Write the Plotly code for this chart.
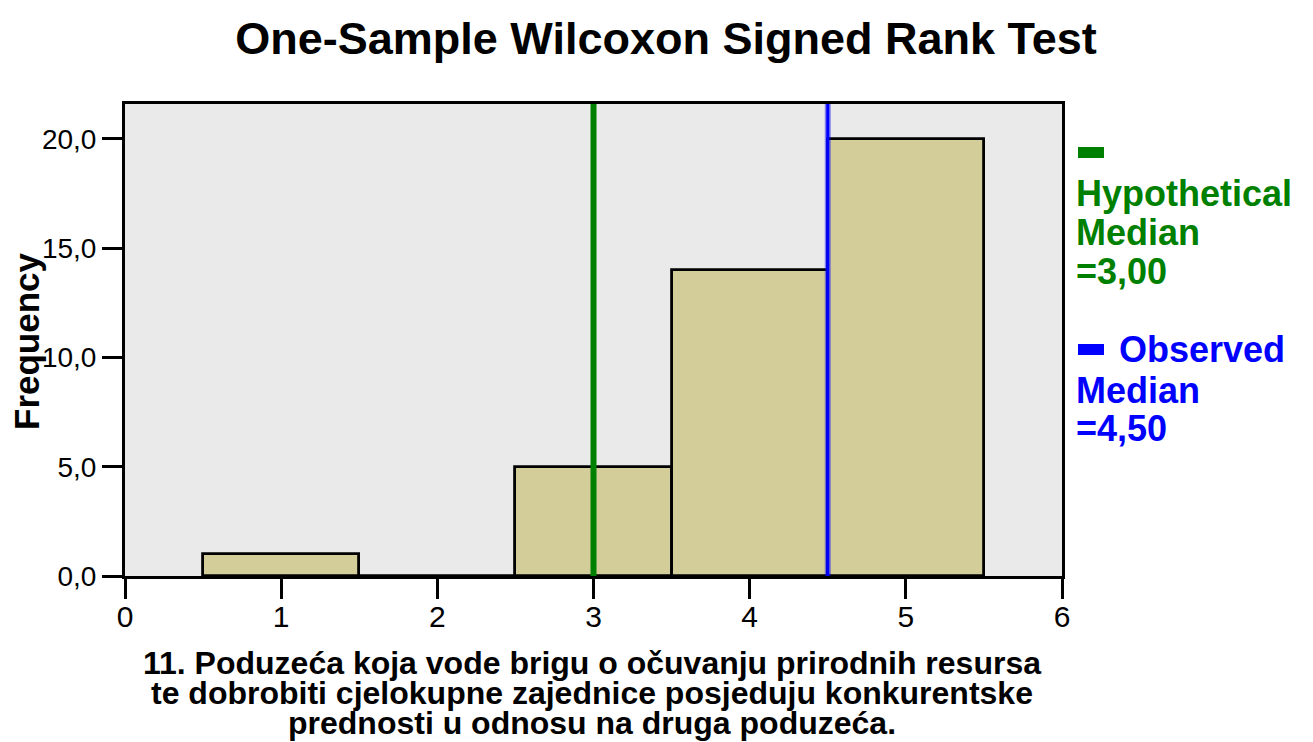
import plotly.graph_objects as go

# ---- data ----
bin_centers = [1, 2, 3, 4, 5]
frequencies = [1, 0, 5, 14, 20]
hypothetical_median = 3.00
observed_median = 4.50
x_tick_vals = [0, 1, 2, 3, 4, 5, 6]
y_tick_vals = [0, 5, 10, 15, 20]
title_text = "One-Sample Wilcoxon Signed Rank Test"
y_title = "Frequency"
x_title_lines = [
    "11. Poduzeća koja vode brigu o očuvanju prirodnih resursa",
    "te dobrobiti cjelokupne zajednice posjeduju konkurentske",
    "prednosti u odnosu na druga poduzeća.",
]
hyp_label_lines = ["Hypothetical", "Median", "=3,00"]
obs_label_lines = ["Observed", "Median", "=4,50"]

FONT = "Liberation Sans, Arial, sans-serif"
GREEN = "#008000"
BLUE = "#0000FF"

OFF = 8  # page body margin
W, H = 1313 - OFF, 742 - OFF
PW, PH = 937, 472
L, T = 125 - OFF, 104 - OFF
R, B = W - L - PW, H - T - PH


def px(xp):
    return (xp - OFF - L) / PW


def py(yp):
    return (T + PH - (yp - OFF)) / PH


fig = go.Figure()
fig.add_trace(go.Bar(
    x=bin_centers, y=frequencies, width=1,
    marker=dict(color="#D3CE99", line=dict(color="black", width=2.8)),
    showlegend=False, hoverinfo="x+y",
))

annotations = []
for i, line in enumerate(x_title_lines):
    annotations.append(dict(
        text="<b>%s</b>" % line, x=px(592), xref="paper", y=py(663 + 30 * i), yref="paper",
        xanchor="center", yanchor="middle", showarrow=False,
        font=dict(family=FONT, size=32, color="black"),
    ))
annotations.append(dict(
    text="<b>%s</b>" % y_title, x=px(26), xref="paper", y=py(341), yref="paper",
    xanchor="center", yanchor="middle", textangle=-90, showarrow=False,
    font=dict(family=FONT, size=35, color="black"),
))
hyp_y = [193, 232, 271]
for line, yy in zip(hyp_label_lines, hyp_y):
    annotations.append(dict(
        text="<b>%s</b>" % line, x=px(1074), xref="paper", y=py(yy), yref="paper",
        xanchor="left", yanchor="middle", showarrow=False,
        font=dict(family=FONT, size=36, color=GREEN),
    ))
obs_x = [1117, 1074, 1074]
obs_y = [349, 390, 428]
for line, xx, yy in zip(obs_label_lines, obs_x, obs_y):
    annotations.append(dict(
        text="<b>%s</b>" % line, x=px(xx), xref="paper", y=py(yy), yref="paper",
        xanchor="left", yanchor="middle", showarrow=False,
        font=dict(family=FONT, size=36, color=BLUE),
    ))

shapes = [
    dict(type="rect", xref="paper", yref="paper", x0=px(1078), x1=px(1104),
         y0=py(158), y1=py(147), fillcolor=GREEN, line=dict(width=0)),
    dict(type="rect", xref="paper", yref="paper", x0=px(1078), x1=px(1104),
         y0=py(355), y1=py(344), fillcolor=BLUE, line=dict(width=0)),
]

fig.update_layout(
    width=W, height=H,
    margin=dict(l=L, r=R, t=T, b=B, pad=0),
    paper_bgcolor="white", plot_bgcolor="#EAEAEA",
    separators=",.",
    title=dict(text="<b>%s</b>" % title_text, x=(666 - OFF) / W, xanchor="center",
               y=1 - (38 - OFF) / H, yanchor="middle",
               font=dict(family=FONT, size=45, color="black")),
    xaxis=dict(range=[0, 6], tickvals=x_tick_vals, showgrid=False, zeroline=False,
               showline=True, linecolor="black", linewidth=3, mirror=True,
               ticks="outside", ticklen=20, tickwidth=3, tickcolor="black",
               ticklabelstandoff=-8,
               tickfont=dict(family=FONT, size=30, color="black")),
    yaxis=dict(range=[0, 21.6], tickvals=y_tick_vals, tickformat=".1f", showgrid=False,
               zeroline=False, showline=True, linecolor="black", linewidth=3, mirror=True,
               ticks="outside", ticklen=20, tickwidth=3, tickcolor="black",
               tickfont=dict(family=FONT, size=28, color="black")),
    annotations=annotations,
    shapes=shapes,
    bargap=0,
)

fig.add_vline(x=hypothetical_median, line=dict(color=GREEN, width=6), layer="above")
fig.add_vline(x=observed_median, line=dict(color="rgba(0,0,255,0.45)", width=6), layer="above")
fig.add_vline(x=observed_median, line=dict(color=BLUE, width=3), layer="above")

fig.write_html("out.html")
